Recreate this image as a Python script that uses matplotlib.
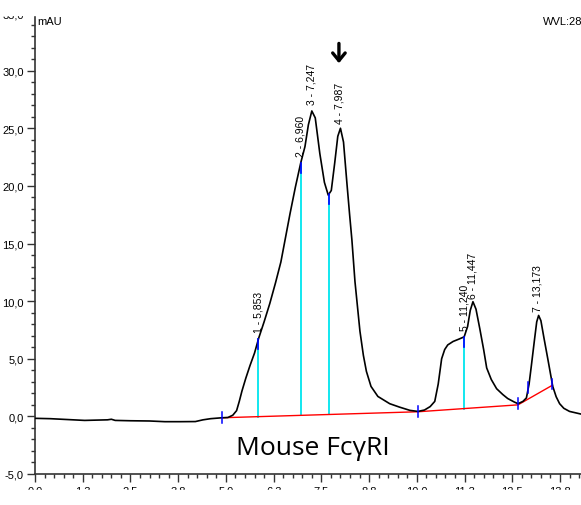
import matplotlib.pyplot as plt
import numpy as np
from matplotlib.patches import Rectangle

# chromatogram trace (min, mAU)
rt = [0.0, 0.4, 1.0, 1.3, 1.9, 2.0, 2.1, 2.5, 3.0, 3.4, 3.8, 4.2, 4.4, 4.6, 4.9,
      5.05, 5.18, 5.28, 5.35, 5.42, 5.52, 5.63, 5.75, 5.86, 6.0, 6.15, 6.3, 6.44,
      6.56, 6.68, 6.82, 6.96, 7.07, 7.16, 7.25, 7.34, 7.46, 7.58, 7.68, 7.76, 7.85,
      7.93, 8.0, 8.08, 8.17, 8.24, 8.30, 8.38, 8.51, 8.60, 8.68, 8.80, 8.98, 9.29,
      9.55, 9.82, 10.03, 10.2, 10.35, 10.47, 10.56, 10.65, 10.73, 10.81, 10.95,
      11.1, 11.24, 11.33, 11.40, 11.47, 11.55, 11.65, 11.75, 11.83, 11.95, 12.09,
      12.25, 12.38, 12.55, 12.65, 12.78, 12.87, 12.94, 13.0, 13.08, 13.14, 13.19,
      13.25, 13.33, 13.43, 13.56, 13.65, 13.74, 13.85, 14.0, 14.3]
mau = [-0.17, -0.2, -0.3, -0.35, -0.3, -0.25, -0.35, -0.38, -0.4, -0.46, -0.46,
       -0.45, -0.3, -0.2, -0.12, -0.1, 0.1, 0.5, 1.3, 2.2, 3.3, 4.4, 5.5, 6.8, 8.2,
       9.8, 11.6, 13.4, 15.5, 17.6, 19.9, 22.0, 23.4, 25.3, 26.5, 25.9, 22.8, 20.3,
       19.2, 19.6, 22.0, 24.3, 25.0, 23.8, 20.2, 17.5, 15.3, 11.7, 7.4, 5.3, 3.9,
       2.6, 1.73, 1.1, 0.8, 0.52, 0.43, 0.55, 0.85, 1.3, 2.8, 5.0, 5.8, 6.2, 6.5,
       6.7, 6.9, 7.8, 9.2, 9.95, 9.3, 7.6, 5.8, 4.2, 3.2, 2.4, 1.9, 1.55, 1.25, 1.1,
       1.3, 1.6, 2.8, 4.4, 6.6, 8.2, 8.76, 8.3, 6.8, 5.0, 2.6, 1.7, 1.1, 0.7, 0.43,
       0.2]

# integration baseline
base_t = [4.9, 10.03, 12.65, 13.55]
base_v = [-0.12, 0.4, 1.0, 2.7]

# peaks
peak_t = [5.853, 6.960, 7.247, 7.987, 11.240, 11.447, 13.173]
peak_lbl = ["1 - 5,853", "2 - 6,960", "3 - 7,247", "4 - 7,987",
            "5 - 11,240", "6 - 11,447", "7 - 13,173"]
drop_t = [5.853, 6.960, 7.70, 11.240]
delim_t = [4.9, 10.03, 12.65, 12.92, 13.55]

xt = [0, 1.25, 2.5, 3.75, 5, 6.25, 7.5, 8.75, 10, 11.25, 12.5, 13.75]
xt_lbl = ["0,0", "1,3", "2,5", "3,8", "5,0", "6,3", "7,5", "8,8",
          "10,0", "11,3", "12,5", "13,8"]
yt = [-5, 0, 5, 10, 15, 20, 25, 30, 35]

plt.rcParams['font.family'] = ['Liberation Sans', 'DejaVu Sans']
fig = plt.figure(figsize=(5.81, 5.06), dpi=100)
ax = fig.add_axes([35/581, 31/506, 546/581, 461/506])

ax.plot(rt, mau, color='black', lw=1.2, zorder=3)
ax.plot(base_t, base_v, color='red', lw=1.0, zorder=2)

for t in drop_t:
    b = np.interp(t, base_t, base_v)
    top = np.interp(t, rt, mau)
    ax.plot([t, t], [b, top], color='#00e5ee', lw=1.3, zorder=1)
    ax.plot([t, t], [top - 0.9, top], color='blue', lw=1.2, zorder=4)

for t in delim_t:
    v = np.interp(t, rt, mau)
    ax.plot([t, t], [v - 0.45, v + 0.5], color='blue', lw=1.1, zorder=4)

for t, s in zip(peak_t, peak_lbl):
    v = np.interp(t, rt, mau)
    ax.annotate(s, (t, v), xytext=(0, 5), textcoords='offset points',
                rotation=90, ha='center', va='bottom', fontsize=7.5)

ax.annotate('', xy=(7.96, 30.4), xytext=(7.96, 32.6),
            arrowprops=dict(arrowstyle='->,head_length=0.55,head_width=0.45',
                            lw=2.4, color='black'))

ax.text(7.27, -3.3, "Mouse FcγRI", fontsize=19, ha='center', va='baseline',
        family=['Open Sans', 'DejaVu Sans'])

ax.set_xlim(0, 14.3)
ax.set_ylim(-5, 35)
ax.set_xticks(xt)
ax.set_xticklabels(xt_lbl)
ax.set_xticks(np.arange(0, 14.3, 0.25), minor=True)
ax.set_yticks(yt)
ax.set_yticklabels([f"{v:.1f}".replace('.', ',') for v in yt])
ax.set_yticks(np.arange(-5, 35.1, 1), minor=True)
ax.tick_params(labelsize=8, length=6, width=1, color='#333333', pad=2)
ax.tick_params(which='minor', length=3, width=1, color='#333333')
for s in ['top', 'right']:
    ax.spines[s].set_visible(False)
for s in ['left', 'bottom']:
    ax.spines[s].set_color('#333333')
    ax.spines[s].set_linewidth(1.2)

fig.text(37/581, 1 - 25/506, "mAU", fontsize=8)
fig.text(543/581, 1 - 25/506, "WVL:28", fontsize=8)

# the screenshot is cropped at top and bottom
fig.patches.append(Rectangle((0, 0), 1, 15/506, transform=fig.transFigure,
                             color='white', zorder=10))
fig.patches.append(Rectangle((0, 1 - 16/506), 1, 16/506, transform=fig.transFigure,
                             color='white', zorder=10))

fig.savefig('out.png', dpi=100)
